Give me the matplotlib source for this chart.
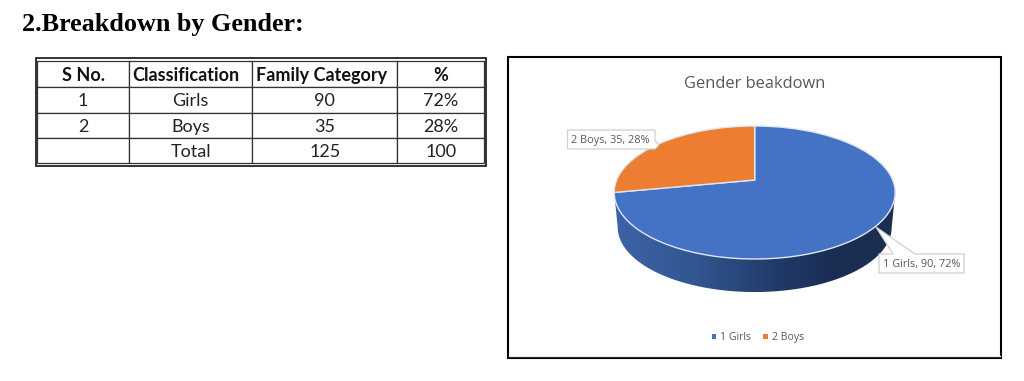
import numpy as np
import matplotlib
matplotlib.use('Agg')
import matplotlib.pyplot as plt
from matplotlib.colors import LinearSegmentedColormap
from matplotlib.patches import Polygon, Rectangle
from matplotlib.transforms import Transform

heading = '2.Breakdown by Gender:'
col_labels = ['S No.', 'Classification', 'Family Category', '%']
table_rows = [['1', 'Girls', '90', '72%'],
              ['2', 'Boys', '35', '28%'],
              ['', 'Total', '125', '100']]

chart_title = 'Gender beakdown'
categories = ['1 Girls', '2 Boys']
values = [90, 35]
percents = [72, 28]

blue = '#4472c4'
orange = '#ed7d31'
grey = '#595959'


# tilted pie: unit circle -> picture pixels, top edge further away
class Tilt(Transform):
    input_dims = 2
    output_dims = 2
    cx, cy = 754.7, 180.0
    a, b, k = 64.15, 138.0, 0.188

    def transform_non_affine(self, xy):
        xy = np.asarray(xy)
        w = 1 + self.k * xy[:, 1]
        return np.column_stack([self.cx + self.b * xy[:, 0] / w,
                                self.cy - self.a * xy[:, 1] / w])


fig = plt.figure(figsize=(10.24, 3.81), dpi=100)
ax = fig.add_axes([0, 0, 1, 1])

wedges, _ = ax.pie(values, colors=[blue, orange], startangle=90, counterclock=False,
                   frame=True, wedgeprops={'edgecolor': '#dfe6f2', 'linewidth': 1.0})
tilt = Tilt()
for w in wedges:
    w.set_transform(tilt + ax.transData)
    w.set_zorder(4)

# side wall below the pie
t = np.linspace(np.pi + np.arcsin(tilt.k), 2 * np.pi - np.arcsin(tilt.k), 200)
rim = tilt.transform(np.column_stack([np.cos(t), np.sin(t)]))
low = rim.copy()
low[:, 0] = tilt.cx + (rim[:, 0] - tilt.cx) * 0.975
low[:, 1] = 192.5 + (rim[:, 1] - 192.5) * 0.975 + 34.7
wall = Polygon(np.vstack([rim, low[::-1]]), closed=True, fc='none', ec='none', transform=ax.transData)
ax.add_patch(wall)
wall_cmap = LinearSegmentedColormap.from_list('wall', [(0, '#3c64aa'), (0.3, '#31558f'), (0.62, '#1f3763'),
                                                       (0.8, '#1a2d52'), (1, '#1a2d52')])
im = ax.imshow(np.linspace(0, 1, 256).reshape(1, -1), cmap=wall_cmap, aspect='auto',
               extent=[613, 896, 295, 190], zorder=3)
im.set_clip_path(wall)

ax.set_aspect('auto')
ax.set_xlim(0, 1024)
ax.set_ylim(381, 0)
ax.axis('off')

ax.text(22, 24, heading, family='Liberation Serif', weight='bold', fontsize=18.8,
        color='black', ha='left', va='center')

# table
ax.add_patch(Rectangle((35.5, 57.5), 450.5, 108.5, fc='none', ec='#111111', lw=1.2, zorder=6))
tb = ax.table(cellText=[col_labels] + table_rows, cellLoc='center', loc='center',
              colWidths=[91.7, 123, 145, 87],
              bbox=[37.3 / 1024, 1 - 163.3 / 381, 447 / 1024, 102.8 / 381])
tb.auto_set_font_size(False)
row_h = [26.5, 26, 25.3, 25]
for (r, c), cell in tb.get_celld().items():
    cell.set_height(row_h[r])
    cell.set_linewidth(0.9)
    cell.set_edgecolor('#333333')
    txt = cell.get_text()
    txt.set_family('Lato')
    txt.set_fontsize(13)
    txt.set_color('#222222')
    txt.set_va('center_baseline')
    if r == 0:
        txt.set_weight('bold')
        txt.set_color('#111111')
        if c == 1 or c == 2:
            txt.set_ha('left')
            cell.PAD = 0.026

# chart frame
ax.add_patch(Rectangle((507.5, 56.5), 493.5, 301.5, fc='none', ec='black', lw=1.5, zorder=1))
ax.plot([509, 1000], [355.5, 355.5], color='#ececec', lw=1, zorder=1)

ax.text(754.5, 83.5, chart_title, family='Open Sans', fontsize=11.9, color=grey, ha='center', va='center')

# callouts
boys_label = '%s, %d, %d%%' % (categories[1], values[1], percents[1])
girls_label = '%s, %d, %d%%' % (categories[0], values[0], percents[0])
ax.add_patch(Polygon([(567.5, 130), (655, 130), (655, 141), (659, 145), (655, 149), (567.5, 149)],
                     closed=True, fc='white', ec='#d0d0d0', lw=0.9, zorder=5))
ax.text(610.5, 140, boys_label, family='Open Sans', fontsize=7.8, color=grey, ha='center', va='center', zorder=6)
ax.add_patch(Polygon([(879, 254), (893, 254), (876, 227), (915, 254), (964, 254), (964, 273), (879, 273)],
                     closed=True, fc='white', ec='#d0d0d0', lw=0.9, zorder=5))
ax.text(921.5, 264, girls_label, family='Open Sans', fontsize=7.8, color=grey, ha='center', va='center', zorder=6)

# legend by hand so both labels sit on one baseline
for name, col, x in zip(categories, [blue, orange], [711.5, 763]):
    ax.add_patch(Rectangle((x, 334), 4.5, 4.5, fc=col, ec='none'))
    ax.text(x + 8.5, 340, name, family='Open Sans', fontsize=7.6, color=grey, ha='left', va='baseline')

fig.savefig('out.png', dpi=100, facecolor='white')
